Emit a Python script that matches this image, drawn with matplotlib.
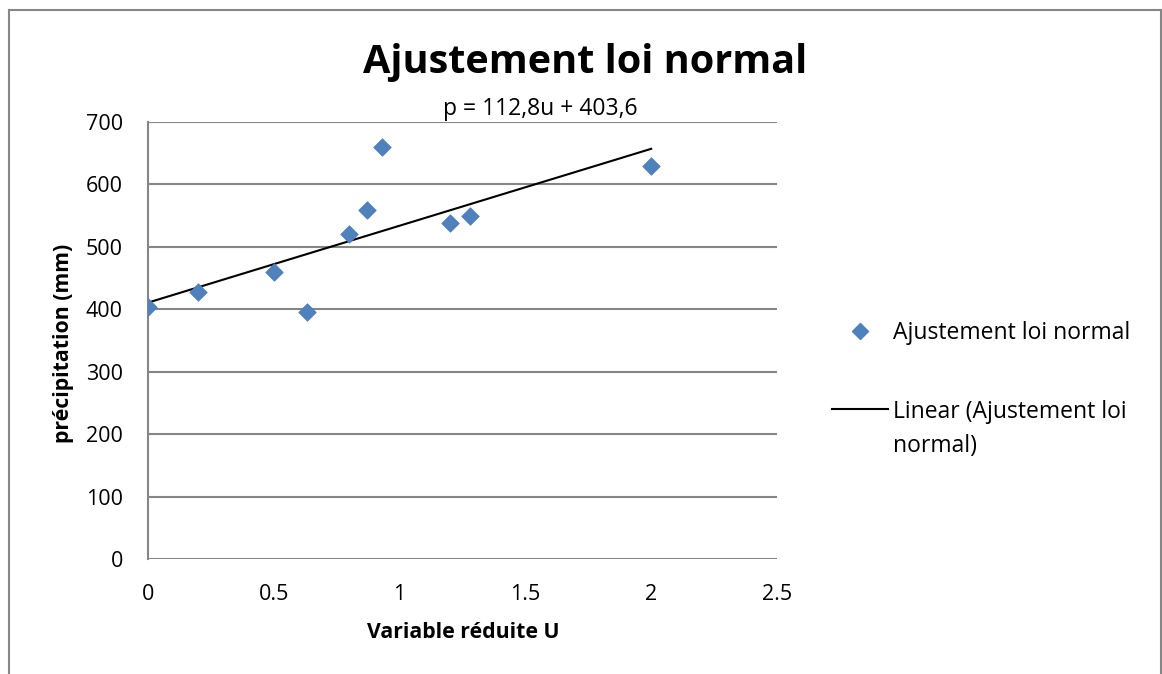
import numpy as np
import matplotlib.pyplot as plt
from matplotlib.lines import Line2D

plt.rcParams['font.family'] = ['Open Sans', 'DejaVu Sans']

# reduced variable U and observed precipitation (mm)
u_values = [0.0, 0.2, 0.5, 0.632, 0.8, 0.87, 0.93, 1.2, 1.28, 2.0]
precip_mm = [403, 427, 460, 396, 521, 559, 660, 539, 549, 629]

x_ticks = [0, 0.5, 1, 1.5, 2, 2.5]
x_tick_labels = ["0", "0.5", "1", "1.5", "2", "2.5"]
y_ticks = [0, 100, 200, 300, 400, 500, 600, 700]

series_name = "Ajustement loi normal"
trend_name = "Linear (Ajustement loi\nnormal)"
equation_text = "p = 112,8u + 403,6"

BLUE = '#4F81BD'
FRAME = '#868686'

W, H = 1162, 674
fig = plt.figure(figsize=(W / 100, H / 100), dpi=100)
ax = fig.add_axes([148 / W, 1 - 559 / H, (777 - 148) / W, (559 - 122) / H])


def px(x, y):
    """pixel position (from top-left) -> figure fraction"""
    return x / W, 1 - y / H


# outer chart frame (open at the bottom)
for (x0, y0), (x1, y1) in [((8.5, 674), (8.5, 9.5)),
                           ((8.5, 9.5), (1160.5, 9.5)),
                           ((1160.5, 9.5), (1160.5, 674))]:
    a, b = px(x0, y0)
    c, d = px(x1, y1)
    fig.add_artist(Line2D([a, c], [b, d], color=FRAME, lw=1.5))

ax.scatter(u_values, precip_mm, marker='D', s=80, color=BLUE,
           edgecolors='#4A7EBB', linewidths=0.5, zorder=3)

# least squares trend line over the data range
slope, intercept = np.polyfit(u_values, precip_mm, 1)
xs = np.array([min(u_values), max(u_values)])
ax.plot(xs, slope * xs + intercept, color='black', lw=1.5, zorder=2)

ax.set_xlim(0, 2.5)
ax.set_ylim(0, 700)
ax.set_xticks(x_ticks)
ax.set_xticklabels(x_tick_labels)
ax.set_yticks(y_ticks)
ax.tick_params(axis='both', length=0, labelsize=15.5, colors='black')
ax.tick_params(axis='x', pad=18)
ax.tick_params(axis='y', pad=18)
ax.grid(axis='y', color=FRAME, lw=1.5)
ax.set_axisbelow(True)
for side in ['top', 'right', 'bottom']:
    ax.spines[side].set_visible(False)
ax.spines['left'].set_color(FRAME)
ax.spines['left'].set_linewidth(1.5)

# axis titles
fig.text(*px(463, 633), "Variable réduite U", ha='center', va='center',
         fontsize=15.3, fontweight='bold')
fig.text(*px(63, 343), "précipitation (mm)", ha='center', va='center',
         rotation=90, fontsize=15.3, fontweight='bold')

fig.text(*px(585, 62), "Ajustement loi normal", ha='center', va='center',
         fontsize=28.5, fontweight='bold')
fig.text(*px(540, 109), equation_text, ha='center', va='center', fontsize=16.5)

# legend entries
fig.add_artist(Line2D([px(860, 0)[0]], [px(0, 331)[1]], marker='D', ls='none',
                      color=BLUE, markersize=8.5))
fig.text(*px(893, 333), series_name, ha='left', va='center', fontsize=16.5)
fig.add_artist(Line2D([px(832, 0)[0], px(888, 0)[0]], [px(0, 409)[1]] * 2,
                      color='black', lw=1.5))
fig.text(*px(893, 400), trend_name, ha='left', va='top', fontsize=16.5,
         linespacing=1.55)

fig.savefig("out.png", dpi=100)
